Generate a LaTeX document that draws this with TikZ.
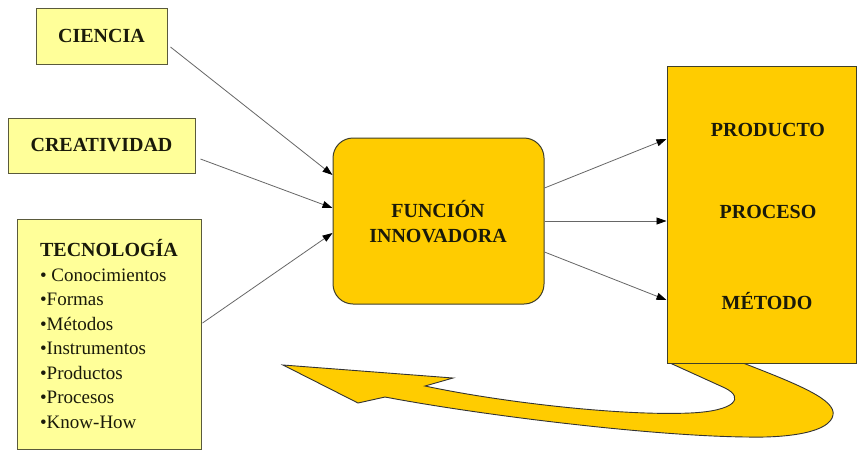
\documentclass[tikz,border=0pt]{standalone}
\usepackage{fontspec}
\setmainfont{Liberation Serif}
\usetikzlibrary{arrows.meta,calc}
\definecolor{gold}{HTML}{FFCC00}
\definecolor{paleyellow}{HTML}{FFFF99}
\definecolor{boxline}{HTML}{5A5A3C}
\definecolor{inktext}{HTML}{1A1A0A}
\begin{document}
\begin{tikzpicture}[x=1pt,y=-1pt,
  lightbox/.style={draw=boxline,line width=1pt,fill=paleyellow,inner sep=0pt,text=inktext,font=\fontsize{20}{24}\selectfont\bfseries},
  goldbox/.style={draw=boxline!70!black,line width=1pt,fill=gold,inner sep=0pt,text=inktext},
  biglabel/.style={text=inktext,font=\fontsize{20}{25}\selectfont\bfseries,inner sep=0pt,align=center},
  link/.style={draw=black!60,line width=0.8pt,-{Triangle[length=10pt,width=7pt,color=black]}},
  backarrow/.style={draw=black!80,line width=0.9pt,fill=gold,line join=miter}
]
\useasboundingbox (0,0) rectangle (858,451);
\fill[white] (0,0) rectangle (858,451);

% input boxes
\node[lightbox,minimum width=131pt,minimum height=56pt] (ciencia) at (101.5,36) {CIENCIA};
\node[lightbox,minimum width=187pt,minimum height=55pt] (creat) at (101.5,145.5) {CREATIVIDAD};
\node[lightbox,minimum width=184pt,minimum height=230pt,align=left,font=\fontsize{19}{24.5}\selectfont] (tecno) at (109,334)
  {{\fontsize{20}{24}\selectfont\bfseries TECNOLOGÍA}\\• Conocimientos\\•Formas\\•Métodos\\•Instrumentos\\•Productos\\•Procesos\\•Know-How};

% feedback arrow (behind the output box)
\path[backarrow]
  (283,365) -- (453,378) -- (425,386)
  .. controls (500,402) and (620,416) .. (690,413)
  .. controls (735,411) and (745,398) .. (725,388)
  -- (670,363) -- (743,363)
  .. controls (800,385) and (836,400) .. (833,415)
  .. controls (830,432) and (790,438) .. (747,437)
  .. controls (650,436) and (480,415) .. (385,397)
  -- (358,403) -- cycle;

% central function box
\node[goldbox,rounded corners=20pt,minimum width=211pt,minimum height=166pt] (func) at (438.5,221) {};
\node[biglabel] (functext) at (438,222) {FUNCIÓN\\INNOVADORA};

% output box
\node[goldbox,minimum width=189pt,minimum height=297pt] (out) at (761.5,214.5) {};
\node[biglabel] (producto) at (768,130) {PRODUCTO};
\node[biglabel] (proceso) at (768,212) {PROCESO};
\node[biglabel] (metodo) at (767,301) {MÉTODO};

% connectors
\draw[link] ($(ciencia.east)+(3,11)$) -- ($(func.west)+(0,-46)$);
\draw[link] ($(creat.east)+(5,13.5)$) -- ($(func.west)+(0,-13)$);
\draw[link] ($(tecno.east)+(1,-11)$) -- ($(func.west)+(0,12)$);
\draw[link] ($(func.east)+(0,-33)$) -- ($(out.west)+(0,-75.5)$);
\draw[link] (func.east) -- ($(out.west)+(0,6.5)$);
\draw[link] ($(func.east)+(0,31)$) -- ($(out.west)+(0,85.5)$);
\end{tikzpicture}
\end{document}
